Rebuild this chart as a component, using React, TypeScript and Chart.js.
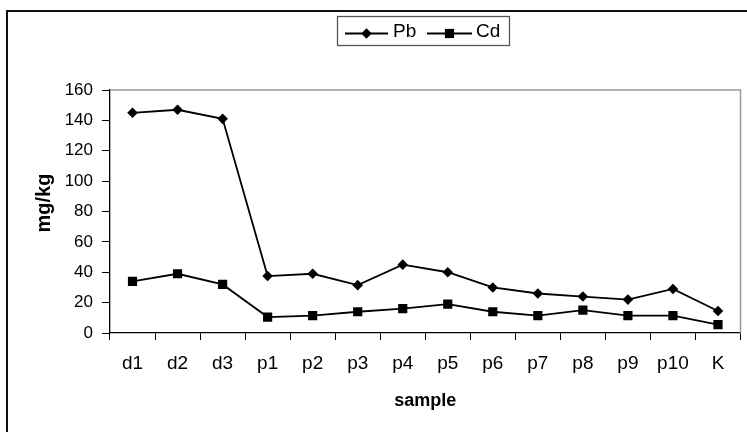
import { useEffect, useRef } from "react";
import { Chart, registerables } from "chart.js";

Chart.register(...registerables);

const categories = ["d1", "d2", "d3", "p1", "p2", "p3", "p4", "p5", "p6", "p7", "p8", "p9", "p10", "K"];
const pbValues = [145, 147, 141, 37.5, 39, 31.5, 45, 40, 30, 26, 24, 22, 29, 14.5];
const cdValues = [34, 39, 32, 10.5, 11.5, 14, 16, 19, 14, 11.5, 15, 11.5, 11.5, 5.5];
const seriesNames = ["Pb", "Cd"];
const yMin = 0;
const yMax = 160;
const yStep = 20;
const xTitle = "sample";
const yTitle = "mg/kg";

const FONT = "'Liberation Sans', Arial, sans-serif";

const decorPlugin = {
  id: "decor",
  afterDraw(chart: any) {
    const ctx = chart.ctx as CanvasRenderingContext2D;
    const a = chart.chartArea;
    ctx.save();
    // outer frame
    ctx.strokeStyle = "#111";
    ctx.lineWidth = 2;
    ctx.strokeRect(7, 11, 900, 600);
    // plot area border (top & right)
    ctx.strokeStyle = "#9a9a9a";
    ctx.lineWidth = 1.5;
    ctx.beginPath();
    ctx.moveTo(a.left, a.top);
    ctx.lineTo(a.right, a.top);
    ctx.lineTo(a.right, a.bottom);
    ctx.stroke();
    // legend box
    ctx.strokeStyle = "#555";
    ctx.lineWidth = 1.3;
    ctx.strokeRect(337.5, 16.5, 172, 29);
    // legend items
    const items = [
      { x0: 345, x1: 388, tx: 393, style: "diamond" },
      { x0: 427, x1: 472, tx: 476, style: "square" },
    ];
    const ly = 33.5;
    ctx.font = `19px ${FONT}`;
    ctx.textBaseline = "middle";
    ctx.textAlign = "left";
    items.forEach((it, i) => {
      ctx.strokeStyle = "#000";
      ctx.fillStyle = "#000";
      ctx.lineWidth = 1.8;
      ctx.beginPath();
      ctx.moveTo(it.x0, ly);
      ctx.lineTo(it.x1, ly);
      ctx.stroke();
      const cx = (it.x0 + it.x1) / 2;
      ctx.beginPath();
      if (it.style === "diamond") {
        const r = 5.3;
        ctx.moveTo(cx - r, ly);
        ctx.lineTo(cx, ly - r);
        ctx.lineTo(cx + r, ly);
        ctx.lineTo(cx, ly + r);
        ctx.closePath();
      } else {
        const s = 4.6;
        ctx.rect(cx - s, ly - s, 2 * s, 2 * s);
      }
      ctx.fill();
      ctx.fillText(chart.data.datasets[i].label, it.tx, 32);
    });
    // y title
    ctx.save();
    ctx.translate(44, 203);
    ctx.rotate(-Math.PI / 2);
    ctx.font = `bold 20px ${FONT}`;
    ctx.textAlign = "center";
    ctx.textBaseline = "middle";
    ctx.fillStyle = "#000";
    ctx.fillText(yTitle, 0, 0);
    ctx.restore();
    ctx.restore();
  },
};

export default function App() {
  const ref = useRef<HTMLCanvasElement | null>(null);
  useEffect(() => {
    document.body.style.margin = "0";
    const canvas = ref.current;
    if (!canvas) return;
    const chart = new Chart(canvas, {
      type: "line",
      data: {
        labels: categories,
        datasets: [
          {
            label: seriesNames[0],
            data: pbValues,
            borderColor: "#000",
            backgroundColor: "#000",
            borderWidth: 1.8,
            pointStyle: "rectRot",
            pointRadius: 5.3,
            pointBorderWidth: 0,
            tension: 0,
          },
          {
            label: seriesNames[1],
            data: cdValues,
            borderColor: "#000",
            backgroundColor: "#000",
            borderWidth: 1.8,
            pointStyle: "rect",
            pointRadius: 6.5,
            pointBorderWidth: 0,
            tension: 0,
          },
        ],
      },
      options: {
        animation: false,
        responsive: true,
        maintainAspectRatio: false,
        layout: { padding: { top: 90, right: 6, left: 0, bottom: 0 } },
        plugins: {
          legend: { display: false },
          tooltip: { enabled: false },
          title: { display: false },
        },
        scales: {
          x: {
            type: "category",
            offset: true,
            afterFit(scale: any) {
              scale.height = 99;
            },
            grid: {
              offset: true,
              drawOnChartArea: false,
              drawTicks: true,
              tickLength: 7,
              color: "#000",
              lineWidth: 1,
            },
            border: { color: "#000", width: 1.3 },
            ticks: {
              color: "#000",
              font: { family: FONT, size: 19 },
              padding: 12,
              maxRotation: 0,
              autoSkip: false,
            },
            title: {
              display: true,
              text: xTitle,
              color: "#000",
              font: { family: FONT, size: 18, weight: "bold" },
              padding: { top: 0, bottom: 20 },
            },
          },
          y: {
            min: yMin,
            max: yMax,
            afterFit(scale: any) {
              scale.width = 110;
            },
            grid: {
              drawOnChartArea: false,
              drawTicks: true,
              tickLength: 8,
              color: "#000",
              lineWidth: 1,
            },
            border: { color: "#000", width: 1.3 },
            ticks: {
              stepSize: yStep,
              color: "#000",
              font: { family: FONT, size: 17 },
              padding: 9,
            },
          },
        },
      },
      plugins: [decorPlugin],
    });
    return () => chart.destroy();
  }, []);
  return (
    <div style={{ width: "747px", height: "432px", position: "relative" }}>
      <canvas ref={ref} />
    </div>
  );
}
